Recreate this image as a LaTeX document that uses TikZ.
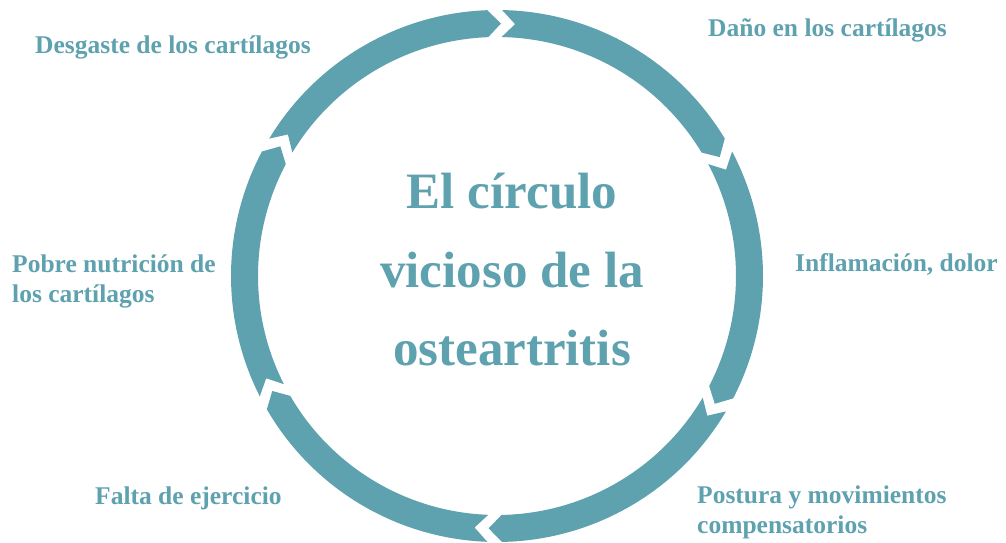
\documentclass[tikz,border=0pt]{standalone}
\usepackage{fontspec}
\setmainfont{Liberation Serif}
\definecolor{teal1}{RGB}{94,161,175}
\tikzset{
  seg/.style={fill=teal1, draw=none},
  lbl/.style={text=teal1, font=\bfseries\fontsize{25.5}{30}\selectfont, inner sep=0pt, align=left},
  ttl/.style={text=teal1, font=\bfseries\fontsize{51}{78.5}\selectfont, inner sep=0pt, align=center}
}
\newcommand{\ringseg}[2]{% #1 = upper boundary angle, #2 = lower boundary angle
  \fill[seg] (#1-1.6:266pt) arc[start angle=#1-1.6, end angle=#2+1.6, radius=266pt]
    -- (#2+1.6-3:252.5pt) -- (#2+1.6:239pt)
    arc[start angle=#2+1.6, end angle=#1-1.6, radius=239pt]
    -- (#1-1.6-3:252.5pt) -- cycle;}
\begin{document}
\begin{tikzpicture}[x=1pt,y=1pt]
\useasboundingbox (0,0) rectangle (1006,543);
\begin{scope}[shift={(497,267)}]
  \ringseg{90.5}{29.5}
  \ringseg{29.5}{-29}
  \ringseg{-29}{-90.5}
  \ringseg{-90.5}{-151.5}
  \ringseg{208.5}{150.5}
  \ringseg{150.5}{90.5}
\end{scope}
\node[ttl] (title) at (512,273) {El círculo\\vicioso de la\\osteartritis};
\node[lbl, anchor=base west] (l1) at (708,506) {Daño en los cartílagos};
\node[lbl, anchor=base west] (l2) at (795,271) {Inflamación, dolor};
\node[lbl, anchor=base west] (l3) at (697,9) {Postura y movimientos\\compensatorios};
\node[lbl, anchor=base west] (l4) at (95,38) {Falta de ejercicio};
\node[lbl, anchor=base west] (l5) at (12,240) {Pobre nutrición de\\los cartílagos};
\node[lbl, anchor=base west] (l6) at (35,489) {Desgaste de los cartílagos};
\end{tikzpicture}
\end{document}
